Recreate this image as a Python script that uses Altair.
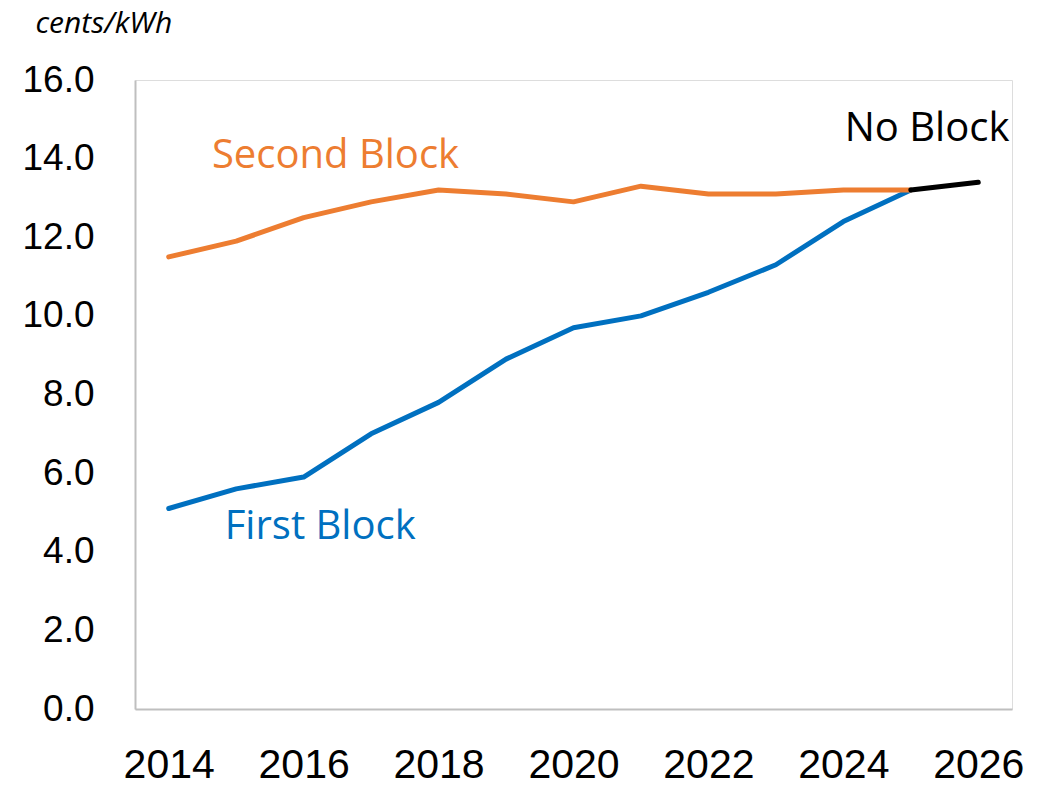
import altair as alt
import pandas as pd

years = list(range(2014, 2026))
first_block = [5.1, 5.6, 5.9, 7.0, 7.8, 8.9, 9.7, 10.0, 10.6, 11.3, 12.4, 13.2]
second_block = [11.5, 11.9, 12.5, 12.9, 13.2, 13.1, 12.9, 13.3, 13.1, 13.1, 13.2, 13.2]
no_block_years = [2025, 2026]
no_block = [13.2, 13.4]

label_text = ["Second Block", "First Block", "No Block"]
label_x = [2014.64, 2014.83, 2024.02]
label_y = [13.75, 4.32, 14.46]
label_color = ["#ED7D31", "#0070C0", "#000000"]

df_first = pd.DataFrame({"year": years, "value": first_block})
df_second = pd.DataFrame({"year": years, "value": second_block})
df_none = pd.DataFrame({"year": no_block_years, "value": no_block})
df_lab = pd.DataFrame({"text": label_text, "x": label_x, "y": label_y, "c": label_color})

xs = alt.Scale(domain=[2013.5, 2026.5], nice=False, zero=False)
ys = alt.Scale(domain=[0, 16], nice=False)

x_axis = alt.Axis(
    values=[2014, 2016, 2018, 2020, 2022, 2024, 2026], format="d", title=None,
    ticks=False, grid=False, domainColor="#BFBFBF", domainWidth=2,
    labelFont="Liberation Sans", labelFontSize=41, labelColor="#000000",
    labelPadding=36, labelBaseline="top",
)
y_axis = alt.Axis(
    values=[0, 2, 4, 6, 8, 10, 12, 14, 16], format=".1f", grid=False, ticks=False,
    domainColor="#BFBFBF", domainWidth=2,
    labelFont="Liberation Sans", labelFontSize=37, labelColor="#000000", labelPadding=41,
    title="cents/kWh", titleAngle=0, titleAlign="left", titleBaseline="alphabetic",
    titleX=-100, titleY=-48, titleFont="Open Sans", titleFontSize=30,
    titleFontStyle="italic", titleFontWeight="normal", titleColor="#000000",
)

def line(df, color):
    return alt.Chart(df).mark_line(color=color, strokeWidth=5, strokeCap="round", strokeJoin="round").encode(
        x=alt.X("year:Q", scale=xs, axis=x_axis),
        y=alt.Y("value:Q", scale=ys, axis=y_axis),
    )

labels = alt.Chart(df_lab).mark_text(
    font="Open Sans", fontSize=40, align="left", baseline="alphabetic"
).encode(
    x=alt.X("x:Q", scale=xs),
    y=alt.Y("y:Q", scale=ys),
    text="text:N",
    color=alt.Color("c:N", scale=None),
)

chart = alt.layer(
    line(df_first, "#0070C0"), line(df_second, "#ED7D31"), line(df_none, "#000000"), labels
).properties(
    width=877, height=629,
    autosize=alt.AutoSizeParams(type="none"),
    padding={"left": 127, "top": 72, "right": 20, "bottom": 78},
).configure_view(stroke=None).configure(background="white")

chart.save("out.html", embed_options={"renderer": "svg", "actions": False})
